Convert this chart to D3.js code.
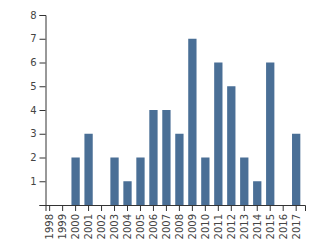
<!DOCTYPE html>
<html>
<head>
<meta charset="utf-8">
<script src="https://cdn.jsdelivr.net/npm/d3@7"></script>
<style>
  body { margin: 0; background: #fff; }
  .axis text { font: 10px "DejaVu Sans", sans-serif; fill: #444; }
  .axis path, .axis line { stroke: #333; }
</style>
</head>
<body>
<svg width="320" height="250"></svg>
<script>
var years = ["1998","1999","2000","2001","2002","2003","2004","2005","2006","2007",
             "2008","2009","2010","2011","2012","2013","2014","2015","2016","2017"];
var counts = [0, 0, 2, 3, 0, 2, 1, 2, 4, 4, 3, 7, 2, 6, 5, 2, 1, 6, 0, 3];
var yTicks = [0, 1, 2, 3, 4, 5, 6, 7, 8];

var svg = d3.select("svg"),
    margin = {top: 15, right: 15, bottom: 45, left: 45.5},
    width = 320 - margin.left - margin.right,
    height = 250 - margin.top - margin.bottom,
    g = svg.append("g").attr("transform", "translate(" + margin.left + "," + margin.top + ")");

var x = d3.scaleBand().domain(years).range([0, width]).paddingInner(0.36).paddingOuter(0.18).align(0),
    y = d3.scaleLinear().domain([0, 8]).range([height, 0]);

g.append("g")
    .attr("class", "axis axis--x")
    .attr("transform", "translate(0," + height + ")")
    .call(d3.axisBottom(x))
  .selectAll("text")
    .attr("transform", "rotate(-90)")
    .attr("x", -9)
    .attr("y", 0)
    .attr("dy", "0.35em")
    .style("text-anchor", "end");

g.append("g")
    .attr("class", "axis axis--y")
    .call(d3.axisLeft(y).tickValues(yTicks).tickFormat(function(d) { return d === 0 ? "" : d; }));

g.selectAll(".bar")
  .data(years)
  .enter().append("rect")
    .attr("class", "bar")
    .attr("x", function(d) { return x(d); })
    .attr("y", function(d, i) { return y(counts[i]); })
    .attr("width", x.bandwidth())
    .attr("height", function(d, i) { return height - y(counts[i]); })
    .style("fill", "#4a6f96");
</script>
</body>
</html>
